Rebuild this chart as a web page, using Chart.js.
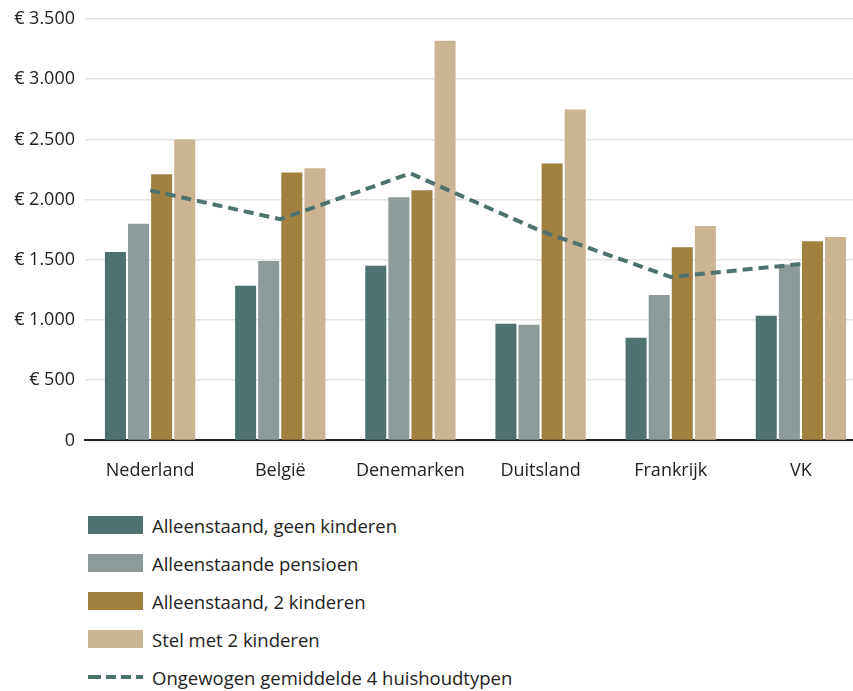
<!DOCTYPE html>
<html>
<head>
<meta charset="utf-8">
<script src="https://cdn.jsdelivr.net/npm/chart.js@4/dist/chart.umd.min.js"></script>
<style>
  body { margin: 0; overflow: hidden; background: #fff; font-family: "Open Sans", Lato, sans-serif; }
  #wrap { position: relative; width: 866px; height: 502px; }
  #legend { margin: 4px 0 0 88px; padding: 0; list-style: none; }
  #legend li { display: flex; align-items: center; height: 38px; font-size: 18.5px; color: #222; }
  #legend .box { width: 55px; height: 18px; margin-right: 9px; }
  #legend .dash { width: 55px; height: 4px; margin-right: 9px;
    background: repeating-linear-gradient(90deg, #4e726f 0 10px, transparent 10px 15px); background-position: 3px 0; }
</style>
</head>
<body>
<div id="wrap"><canvas id="chart"></canvas></div>
<ul id="legend"></ul>
<script>
const landen = ["Nederland", "België", "Denemarken", "Duitsland", "Frankrijk", "VK"];
const geenKinderen = [1565, 1285, 1450, 968, 852, 1035];
const pensioen = [1800, 1490, 2020, 960, 1208, 1460];
const tweeKinderen = [2210, 2225, 2078, 2300, 1605, 1655];
const stelTweeKinderen = [2500, 2260, 3320, 2748, 1780, 1690];
const gemiddelde = [2077, 1837, 2218, 1740, 1357, 1465];

const kleuren = ["#4e726f", "#8c9a99", "#a28040", "#cbb492"];

function euro(v) {
    if (v === 0) return "0";
    return "€ " + String(v).replace(/\B(?=(\d{3})+(?!\d))/g, ".");
}

const chart = new Chart(document.getElementById('chart'), {
    type: 'bar',
    data: {
        labels: landen,
        datasets: [
            { label: "Alleenstaand, geen kinderen", data: geenKinderen, backgroundColor: kleuren[0] },
            { label: "Alleenstaande pensioen", data: pensioen, backgroundColor: kleuren[1] },
            { label: "Alleenstaand, 2 kinderen", data: tweeKinderen, backgroundColor: kleuren[2] },
            { label: "Stel met 2 kinderen", data: stelTweeKinderen, backgroundColor: kleuren[3] },
            {
                type: 'line', label: "Ongewogen gemiddelde 4 huishoudtypen", data: gemiddelde,
                borderColor: "#4e726f", borderWidth: 4, borderDash: [10, 6],
                pointRadius: 0, fill: false, tension: 0, order: -1
            }
        ]
    },
    options: {
        responsive: true,
        maintainAspectRatio: false,
        animation: false,
        categoryPercentage: 0.71,
        barPercentage: 0.91,
        layout: { padding: { top: 0, right: 0, left: 0, bottom: 0 } },
        plugins: { legend: { display: false }, tooltip: { enabled: false } },
        scales: {
            x: {
                grid: { display: false, drawTicks: false },
                border: { display: true, color: "#222", width: 2 },
                ticks: { color: "#222", padding: 20, font: { family: "Open Sans", size: 18 } }
            },
            y: {
                min: 0, max: 3500,
                afterFit: function (scale) { scale.width = 85; },
                grid: { color: "#e2e2e2", lineWidth: 1.5, drawTicks: false },
                border: { display: false },
                ticks: {
                    stepSize: 500, padding: 10, color: "#222",
                    font: { family: "Open Sans", size: 18, lineHeight: 1 },
                    callback: function (v) { return euro(v); }
                }
            }
        }
    }
});

const legend = document.getElementById('legend');
chart.data.datasets.forEach(function (ds, i) {
    const li = document.createElement('li');
    const sw = document.createElement('span');
    sw.className = ds.type === 'line' ? 'dash' : 'box';
    if (ds.type !== 'line') sw.style.background = ds.backgroundColor;
    li.appendChild(sw);
    li.appendChild(document.createTextNode(ds.label));
    legend.appendChild(li);
});
</script>
</body>
</html>
